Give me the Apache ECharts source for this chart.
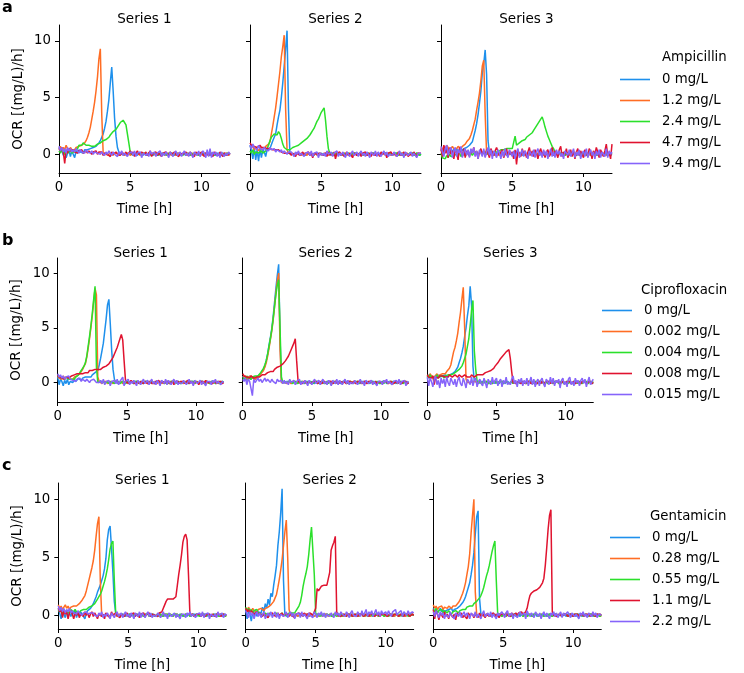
<!DOCTYPE html>
<html><head><meta charset="utf-8">
<script src="https://cdn.jsdelivr.net/npm/echarts@6/dist/echarts.min.js"></script>
<style>html,body{margin:0;padding:0;background:#fff}#c{width:744px;height:673px}</style>
</head><body><div id="c"></div>
<script>
// ---------- categories / labels ----------
const DRUGS = ['Ampicillin','Ciprofloxacin','Gentamicin'];
const AMP_CONC = ['0 mg/L','1.2 mg/L','2.4 mg/L','4.7 mg/L','9.4 mg/L'];
const CIP_CONC = ['0 mg/L','0.002 mg/L','0.004 mg/L','0.008 mg/L','0.015 mg/L'];
const GEN_CONC = ['0 mg/L','0.28 mg/L','0.55 mg/L','1.1 mg/L','2.2 mg/L'];
const PANEL_TITLES = ['Series 1','Series 2','Series 3'];
const LETTERS = ['a','b','c'];
const X_TICKS = [0,5,10];
const Y_TICKS = [0,5,10];
// sampling grid: 0 .. 12 h every 0.1 h (121 samples)
const TIME = Array.from({length:121},(_,i)=>i/10);

// ---------- Ampicillin, Series 1 ----------
const A1_0 = [.6,.2,.4,-.1,.3,-.3,.1,.4,-.2,.3,
.2,-.3,.3,.1,.4,.2,.3,.1,.4,.3,
.4,.3,.5,.4,.6,.5,.7,.8,1.0,1.2,
1.5,1.8,2.3,2.9,3.8,4.8,6.3,7.7,5.6,3.2,
1.6,.6,.2,.1,0,.1,-.1,.1,0,.1,
0,.1,-.1,.1,0,-.1,.1,0,.1,-.1,
.1,0,-.1,.1,0,.1,-.1,0,.1,0,
-.1,.1,0,.1,-.1,0,.1,-.1,0,.1,
0,-.1,.1,0,.1,-.1,0,.1,0,-.1,
0,.1,-.1,.1,0,-.1,.1,0,.1,-.1,
.1,0,-.1,.1,0,.1,-.1,0,.1,0,
-.1,.1,0,.1,-.1,0,.1,-.1,0,.1,
0];
const A1_1 = [.5,.7,.3,.6,.4,.8,.5,.3,.6,.4,
.5,.4,.6,.5,.7,.6,.8,.9,1.0,1.2,
1.5,1.9,2.4,3.1,3.8,4.6,5.6,6.8,8.4,9.3,
3.5,.1,0,.1,-.1,0,.1,0,-.1,.1,
0,.1,-.1,0,.1,0,-.1,.1,0,.1,
-.1,0,.1,-.1,0,.1,0,-.1,.1,0,
.1,-.1,0,.1,0,-.1,.1,0,-.1,.1,
0,.1,-.1,0,.1,-.1,0,.1,0,-.1,
.1,0,-.1,.1,0,.1,-.1,0,.1,0,
-.1,.1,0,-.1,.1,0,.1,-.1,0,.1,
0,-.1,.1,0,.1,-.1,0,.1,-.1,0,
.1,0,-.1,.1,0,-.1,.1,0,.1,-.1,
0];
const A1_2 = [.3,.1,.4,.2,0,.3,.1,.2,.4,.1,
.2,.3,.2,.5,.8,.9,.8,1.0,.9,.8,
.9,.8,.9,.7,.8,.7,.8,.9,.8,1.0,
1.1,1.2,1.1,1.3,1.4,1.5,1.7,1.8,2.0,2.1,
2.2,2.4,2.6,2.8,2.9,3.0,3.0,2.6,1.8,1.0,
.2,0,.1,-.1,0,.1,0,.1,-.1,0,
.1,-.1,0,.1,0,-.1,.1,0,.1,-.1,
0,.1,-.1,0,.1,0,-.1,.1,0,.1,
-.1,0,.1,-.1,0,.1,0,-.1,.1,0,
.1,0,-.1,.1,-.1,0,.1,0,-.1,.1,
0,.1,-.1,0,.1,-.1,0,.1,0,-.1,
.1,-.1,0,.1,0,.1,-.1,0,.1,0,
0];
const A1_3 = [.5,.3,.6,.2,-.8,.4,.1,.5,.3,.2,
.4,.2,.3,.1,.3,.2,.4,.1,.2,.3,
.1,.3,.2,0,.2,.1,.3,0,.2,.1,
.2,-.1,.1,.2,0,.1,-.2,.2,0,.1,
.2,0,.1,-.1,.2,.1,0,.2,-.1,.1,
.3,0,.2,-.2,.1,.3,0,-.1,.2,.1,
0,.2,-.1,.1,.3,-.2,.1,0,.2,-.1,
.1,.2,-.2,.1,0,.2,.1,-.1,.2,0,
-.1,.2,0,.1,-.2,.1,.2,0,-.1,.2,
.1,-.1,.2,0,.1,-.2,.2,.1,0,-.1,
.2,0,-.2,.1,.2,-.1,.1,0,-.2,.2,
0,.1,-.1,.2,0,-.2,.1,.2,-.1,0,
.1];
const A1_4 = [.7,.3,.6,.2,.5,.1,.6,.3,.5,.2,
.4,.2,.5,.3,.1,.4,.2,.3,.1,.4,
.2,.3,.1,.3,0,.2,.3,.1,.2,0,
.2,.1,-.1,.2,0,.3,.1,-.1,.2,0,
.1,-.2,.2,0,.3,-.1,.1,.2,-.2,.1,
0,.2,-.1,.3,-.2,.1,0,.2,-.3,.1,
.2,-.1,.1,-.2,.3,0,-.1,.2,-.2,.1,
0,.3,-.2,.1,-.1,.2,0,-.3,.2,.1,
-.2,.1,.3,-.1,0,.2,-.2,.1,.3,-.1,
.1,-.2,.2,0,-.3,.2,.1,-.1,.3,-.2,
-.2,.3,.1,-.3,.4,-.2,.5,-.3,.2,0,
.2,-.2,.1,-.3,.2,0,-.2,.1,-.1,.2,
0];

// ---------- Ampicillin, Series 2 ----------
const A2_0 = [.8,.3,-.4,.6,-.5,.4,-.6,.5,-.3,.4,
.2,-.2,.4,.3,.5,.6,1.2,1.5,1.8,2.6,
3.3,3.9,5.0,6.3,7.8,9.3,10.9,4.0,0,.1,
0,-.1,.1,0,.1,-.1,0,.1,0,-.1,
0,.1,-.1,.1,0,-.1,.1,0,.1,-.1,
.1,0,-.1,.1,0,.1,-.1,0,.1,0,
-.1,.1,0,.1,-.1,0,.1,-.1,0,.1,
0,-.1,.1,0,.1,-.1,0,.1,0,-.1,
0,.1,-.1,.1,0,-.1,.1,0,.1,-.1,
.1,0,-.1,.1,0,.1,-.1,0,.1,0,
-.1,.1,0,.1,-.1,0,.1,-.1,0,.1,
0,-.1,.1,0,.1,-.1,0,.1,0,-.1,
0];
const A2_1 = [.6,.5,.7,.4,.6,.5,.3,.6,.4,.5,
.5,.7,.6,.9,1.1,1.8,2.5,3.3,4.1,5.1,
6.2,7.3,8.6,9.5,10.5,4.0,.4,.1,0,.1,
.1,0,-.1,.1,0,.1,-.1,0,.1,0,
-.1,.1,0,.1,-.1,0,.1,-.1,0,.1,
0,-.1,.1,0,.1,-.1,0,.1,0,-.1,
0,.1,-.1,.1,0,-.1,.1,0,.1,-.1,
.1,0,-.1,.1,0,.1,-.1,0,.1,0,
-.1,.1,0,.1,-.1,0,.1,-.1,0,.1,
0,-.1,.1,0,.1,-.1,0,.1,0,-.1,
0,.1,-.1,.1,0,-.1,.1,0,.1,-.1,
.1,0,-.1,.1,0,.1,-.1,0,.1,0,
0];
const A2_2 = [.3,.1,.4,0,.2,.3,.1,.2,.3,.1,
.2,.3,.5,.8,1.2,1.5,1.6,1.8,1.9,1.7,
2.0,1.8,1.4,.9,.6,.5,.4,.3,.4,.5,
.6,.6,.7,.8,.8,.9,1.0,1.1,1.2,1.3,
1.4,1.5,1.7,1.9,2.1,2.3,2.6,2.9,3.1,3.4,
3.7,3.9,4.1,3.0,1.6,.5,.1,0,.1,-.1,
-.1,.1,0,.1,-.1,0,.1,-.1,0,.1,
0,-.1,.1,0,.1,-.1,0,.1,0,-.1,
0,.1,-.1,.1,0,-.1,.1,0,.1,-.1,
.1,0,-.1,.1,0,.1,-.1,0,.1,0,
-.1,.1,0,.1,-.1,0,.1,-.1,0,.1,
0,-.1,.1,0,.1,-.1,0,.1,0,-.1,
0];
const A2_3 = [1.0,.8,.9,.7,.8,.6,.7,.8,.6,.7,
.6,.7,.5,.6,.5,.6,.4,.5,.4,.3,
.4,.3,.2,.3,.1,.2,.1,0,.1,-.1,
.1,0,-.2,.1,.2,-.1,0,.2,-.1,.1,
0,.2,-.1,.1,-.3,.1,.2,0,-.1,.1,
.2,-.1,0,.1,-.2,.2,0,.1,-.1,.2,
-.4,.1,0,.2,-.1,.1,-.2,0,.2,-.1,
.1,0,-.3,.1,.2,-.1,0,.1,-.2,.1,
0,.2,-.1,0,.1,-.2,.1,.2,-.1,0,
.1,-.2,.2,0,-.1,.1,-.3,.1,0,.2,
-.1,.1,0,-.2,.2,.1,-.1,0,.2,-.1,
.1,-.2,0,.1,-.1,.2,0,-.2,.1,0,
.1];
const A2_4 = [.8,.5,.9,.6,.7,.4,.8,.5,.6,.4,
.6,.4,.5,.3,.6,.4,.3,.5,.2,.4,
.3,.2,.4,.1,.3,.2,0,.2,.1,.2,
.1,-.2,.2,0,.3,-.1,.1,.2,-.2,.1,
0,.2,-.1,.3,-.2,.1,0,.2,-.3,.1,
.2,-.1,.1,-.2,.3,0,-.1,.2,-.2,.1,
0,.3,-.2,.1,-.1,.2,0,-.3,.2,.1,
-.2,.1,.3,-.1,0,.2,-.2,.1,.3,-.1,
.1,-.2,.2,0,-.3,.2,.1,-.1,.3,-.2,
.2,0,-.2,.1,.3,-.1,.2,-.2,0,.1,
-.1,.2,.1,-.2,0,.3,-.1,.1,-.3,.2,
.3,-.1,0,.2,-.2,.1,.2,-.3,.1,0,
.1];

// ---------- Ampicillin, Series 3 ----------
const A3_0 = [.4,.1,.5,.2,.6,.3,.1,.4,.2,.5,
.3,.5,.2,.4,.6,.3,.5,.4,.6,.7,
.8,.9,1.1,1.6,2.1,2.7,3.5,4.5,5.6,7.2,
8.0,9.2,7.0,1.2,.1,0,.1,-.1,0,.1,
.1,0,-.1,.1,0,.1,-.1,0,.1,0,
-.1,.1,0,.1,-.1,0,.1,-.1,0,.1,
0,-.1,.1,0,.1,-.1,0,.1,0,-.1,
0,.1,-.1,.1,0,-.1,.1,0,.1,-.1,
.1,0,-.1,.1,0,.1,-.1,0,.1,0,
-.1,.1,0,.1,-.1,0,.1,-.1,0,.1,
0,-.1,.1,0,.1,-.1,0,.1,0,-.1,
0,.1,-.1,.1,0,-.1,.1,0,.1,-.1,
0];
const A3_1 = [.6,.4,.7,.5,.8,.6,.3,.5,.7,.5,
.6,.5,.7,.6,.5,.7,.8,.9,1.1,1.2,
1.4,1.7,2.1,2.6,3.1,3.9,4.6,5.4,6.5,7.8,
8.3,3.5,.1,0,-.1,.1,0,.1,-.1,0,
-.1,.1,0,.1,-.1,0,.1,-.1,0,.1,
0,-.1,.1,0,.1,-.1,0,.1,0,-.1,
0,.1,-.1,.1,0,-.1,.1,0,.1,-.1,
.1,0,-.1,.1,0,.1,-.1,0,.1,0,
-.1,.1,0,.1,-.1,0,.1,-.1,0,.1,
0,-.1,.1,0,.1,-.1,0,.1,0,-.1,
0,.1,-.1,.1,0,-.1,.1,0,.1,-.1,
.1,0,-.1,.1,0,.1,-.1,0,.1,0,
0];
const A3_2 = [.1,-.3,-.2,-.4,-.1,-.3,0,-.2,-.3,-.1,
-.2,0,-.1,.1,-.2,0,.1,-.1,0,.1,
0,.1,-.1,.1,0,.2,0,.1,.2,0,
.1,.2,0,.1,.2,.1,.2,.3,.2,.3,
.2,.3,.4,.3,.4,.3,.5,.4,.5,.6,
.5,.6,1.6,.8,.9,1.0,1.1,1.2,1.1,1.3,
1.5,1.6,1.7,1.8,1.9,2.1,2.3,2.5,2.7,2.9,
3.1,3.3,2.9,2.4,2.0,1.6,1.3,1.0,.7,.5,
.2,.1,0,-.1,.1,0,.1,-.1,0,.1,
0,.1,-.1,.1,0,-.1,.1,0,.1,-.1,
.1,0,-.1,.1,0,.1,-.1,0,.1,0,
-.1,.1,0,.1,-.1,0,.1,-.1,0,.1,
0];
const A3_3 = [.5,-.2,.8,.1,.4,-.3,.6,0,.3,-.4,
.4,.1,-.5,.6,.2,-.1,.5,-.3,.3,.1,
-.2,.4,.1,.6,-.1,.3,-.4,.2,.5,0,
.3,-.2,.4,.1,-.3,.5,.2,-.1,.3,.6,
.7,-.1,.2,.4,-.3,.1,.5,-.2,.3,0,
.2,-.4,.4,-.9,.3,.1,-.2,.5,0,.3,
-.3,.2,.6,-.1,.3,-.2,.4,.1,-.4,.2,
.5,-.1,.3,-.3,.2,.4,-.2,.1,.6,-.1,
.3,.1,-.3,.4,.7,-.2,.2,0,.5,-.3,
.1,.4,-.2,.3,-.4,.2,.5,-.1,.3,0,
-.3,.4,.1,-.2,.5,.2,-.4,.3,0,.6,
.2,-.3,.4,.1,-.2,.3,.9,-.1,.2,-.4,
.9];
const A3_4 = [.7,.2,-.2,.5,.8,-.1,.4,.6,-.3,.3,
.6,-.2,.4,.1,.7,-.3,.2,.5,-.1,.4,
-.3,.5,.1,.6,-.2,.3,-.4,.4,.1,-.2,
.5,-.3,.2,.6,-.1,.4,-.4,.3,.1,-.3,
.4,.1,-.4,.3,-.2,.5,0,-.3,.4,.1,
-.2,.3,-.4,.2,.5,-.3,.1,.4,-.2,.3,
0,-.4,.3,.1,-.2,.4,-.3,.2,.5,-.1,
.2,-.3,.4,-.1,.3,-.4,.1,.5,-.2,.2,
-.3,.4,0,.3,-.2,.1,-.4,.3,.2,-.1,
.4,-.2,.1,.5,-.3,.2,-.1,.4,-.4,.1,
.3,-.2,.5,-.3,.1,.4,-.1,.2,-.4,.3,
-.1,.4,-.3,.2,.1,-.2,.5,-.3,.3,0,
.2];

// ---------- Ciprofloxacin, Series 1 ----------
const B1_0 = [.5,-.2,.3,.1,-.3,.2,-.1,.3,-.2,.1,
.2,0,.3,.1,.2,.4,.3,.2,.4,.3,
.5,.4,.5,.6,.5,.7,.8,.9,1.0,1.1,
1.6,2.2,2.9,3.6,4.7,5.8,7.1,7.6,5.4,3.0,
1.2,.3,0,.1,-.1,0,.1,-.1,0,.1,
0,.1,-.1,.1,0,-.1,.1,0,.1,-.1,
.1,0,-.1,.1,0,.1,-.1,0,.1,0,
-.1,.1,0,.1,-.1,0,.1,-.1,0,.1,
0,-.1,.1,0,.1,-.1,0,.1,0,-.1,
0,.1,-.1,.1,0,-.1,.1,0,.1,-.1,
.1,0,-.1,.1,0,.1,-.1,0,.1,0,
-.1,.1,0,.1,-.1,0,.1,-.1,0,.1,
0];
const B1_1 = [.6,.4,.5,.3,.6,.4,.3,.5,.4,.3,
.4,.3,.5,.4,.6,.7,.8,1.0,1.2,1.5,
1.7,2.3,3.1,4.0,5.0,6.1,7.4,8.6,8.0,.5,
.1,0,-.1,.1,0,.1,-.1,0,.1,0,
-.1,.1,0,.1,-.1,0,.1,-.1,0,.1,
0,-.1,.1,0,.1,-.1,0,.1,0,-.1,
0,.1,-.1,.1,0,-.1,.1,0,.1,-.1,
.1,0,-.1,.1,0,.1,-.1,0,.1,0,
-.1,.1,0,.1,-.1,0,.1,-.1,0,.1,
0,-.1,.1,0,.1,-.1,0,.1,0,-.1,
0,.1,-.1,.1,0,-.1,.1,0,.1,-.1,
.1,0,-.1,.1,0,.1,-.1,0,.1,0,
0];
const B1_2 = [.7,.5,.6,.4,.5,.3,.5,.4,.3,.4,
.3,.4,.3,.5,.6,.7,.9,1.1,1.3,1.5,
1.8,2.4,3.3,4.2,5.2,6.3,7.6,8.8,1.4,0,
-.1,.1,0,.1,-.1,0,.1,-.1,0,.1,
0,-.1,.1,0,.1,-.1,0,.1,0,-.1,
0,.1,-.1,.1,0,-.1,.1,0,.1,-.1,
.1,0,-.1,.1,0,.1,-.1,0,.1,0,
-.1,.1,0,.1,-.1,0,.1,-.1,0,.1,
0,-.1,.1,0,.1,-.1,0,.1,0,-.1,
0,.1,-.1,.1,0,-.1,.1,0,.1,-.1,
.1,0,-.1,.1,0,.1,-.1,0,.1,0,
-.1,.1,0,.1,-.1,0,.1,-.1,0,.1,
0];
const B1_3 = [.7,.5,.6,.4,.5,.3,.5,.6,.4,.5,
.6,.5,.7,.6,.8,.7,.8,.9,.8,.9,
.9,1.0,.9,1.1,1.0,1.1,1.0,1.2,1.1,1.2,
1.3,1.2,1.3,1.4,1.4,1.5,1.6,1.7,1.9,2.1,
2.3,2.6,2.9,3.2,3.6,4.0,4.4,3.9,2.0,.2,
0,.1,-.1,.2,0,.1,-.1,0,.1,-.1,
.1,0,-.1,.1,.2,-.1,0,.1,-.1,0,
-.1,.1,0,.2,-.1,0,.1,-.1,.1,0,
.1,-.1,0,.1,-.2,.1,0,.1,-.1,.1,
0,.1,-.1,0,.2,-.1,.1,0,-.1,.1,
.1,0,-.2,.1,0,.1,-.1,.2,0,-.1,
0,.1,-.1,.1,0,-.1,.1,0,.1,-.1,
0];
const B1_4 = [.8,.5,.7,.4,.6,.3,.5,.4,.6,.3,
.4,.2,.3,.1,.3,.2,.4,.1,.3,.2,
.1,.3,.2,0,.2,.1,.3,.2,0,.1,
0,.2,-.1,.3,-.2,.1,0,.2,-.3,.1,
0,.2,-.1,.3,-.2,.1,0,.5,-.3,.1,
0,.3,-.2,.1,-.1,.2,0,-.3,.2,.1,
-.2,.1,.3,-.1,0,.2,-.2,.1,.3,-.1,
.1,-.2,.2,0,-.3,.2,.1,-.1,.3,-.2,
.2,0,-.2,.1,.3,-.1,.2,-.2,0,.1,
-.1,.2,.1,-.2,0,.3,-.1,.1,-.3,.2,
.3,-.1,0,.2,-.2,.1,.2,-.3,.1,0,
.1,-.2,.2,0,.3,-.1,.1,.2,-.2,.1,
0];

// ---------- Ciprofloxacin, Series 2 ----------
const B2_0 = [.6,.3,.5,.2,.4,.6,.3,.5,.4,.3,
.5,.6,.7,.8,1.0,1.2,1.5,2.0,2.6,3.4,
4.1,4.9,6.0,7.3,8.6,9.8,10.8,4.0,0,.1,
0,-.1,.1,0,.1,-.1,0,.1,0,-.1,
0,.1,-.1,.1,0,-.1,.1,0,.1,-.1,
.1,0,-.1,.1,0,.1,-.1,0,.1,0,
-.1,.1,0,.1,-.1,0,.1,-.1,0,.1,
0,-.1,.1,0,.1,-.1,0,.1,0,-.1,
0,.1,-.1,.1,0,-.1,.1,0,.1,-.1,
.1,0,-.1,.1,0,.1,-.1,0,.1,0,
-.1,.1,0,.1,-.1,0,.1,-.1,0,.1,
0,-.1,.1,0,.1,-.1,0,.1,0,-.1,
0];
const B2_1 = [.5,.4,.6,.3,.5,.4,.6,.4,.5,.3,
.4,.5,.6,.8,.9,1.1,1.4,1.8,2.4,3.1,
3.9,4.7,5.7,6.9,8.2,9.3,10.0,3.0,0,.1,
0,.1,-.1,.1,0,-.1,.1,0,.1,-.1,
.1,0,-.1,.1,0,.1,-.1,0,.1,0,
-.1,.1,0,.1,-.1,0,.1,-.1,0,.1,
0,-.1,.1,0,.1,-.1,0,.1,0,-.1,
0,.1,-.1,.1,0,-.1,.1,0,.1,-.1,
.1,0,-.1,.1,0,.1,-.1,0,.1,0,
-.1,.1,0,.1,-.1,0,.1,-.1,0,.1,
0,-.1,.1,0,.1,-.1,0,.1,0,-.1,
0,.1,-.1,.1,0,-.1,.1,0,.1,-.1,
0];
const B2_2 = [.4,.5,.3,.6,.4,.5,.3,.5,.4,.6,
.5,.6,.7,.9,1.0,1.3,1.6,2.0,2.6,3.3,
4.0,4.8,5.8,6.9,8.0,8.9,9.4,9.3,.5,0,
.1,0,-.1,.1,0,.1,-.1,0,.1,0,
-.1,.1,0,.1,-.1,0,.1,-.1,0,.1,
0,-.1,.1,0,.1,-.1,0,.1,0,-.1,
0,.1,-.1,.1,0,-.1,.1,0,.1,-.1,
.1,0,-.1,.1,0,.1,-.1,0,.1,0,
-.1,.1,0,.1,-.1,0,.1,-.1,0,.1,
0,-.1,.1,0,.1,-.1,0,.1,0,-.1,
0,.1,-.1,.1,0,-.1,.1,0,.1,-.1,
.1,0,-.1,.1,0,.1,-.1,0,.1,0,
0];
const B2_3 = [.8,.6,.7,.5,.6,.4,.6,.5,.4,.5,
.5,.6,.5,.6,.7,.6,.7,.8,.9,.9,
1.0,1.1,1.0,1.2,1.3,1.4,1.4,1.5,1.6,1.7,
1.8,2.0,2.2,2.4,2.7,3.0,3.3,3.6,4.0,2.0,
.2,0,.1,-.1,0,.1,0,-.1,.1,0,
-.1,.1,0,.1,-.1,0,.1,-.1,0,.1,
0,-.1,.1,0,.1,-.1,0,.1,0,-.1,
0,.1,-.1,.1,0,-.1,.1,0,.1,-.1,
.1,0,-.1,.1,0,.1,-.1,0,.1,0,
-.1,.1,0,.1,-.1,0,.1,-.1,0,.1,
0,-.1,.1,0,.1,-.1,0,.1,0,-.1,
0,.1,-.1,.1,0,-.1,.1,0,.1,-.1,
0];
const B2_4 = [.3,.1,.4,-.2,.3,.1,.2,-1.2,.3,0,
.2,.4,.1,.3,0,.2,.4,.1,.3,.2,
0,.3,.1,.2,-.1,.3,.1,0,.2,-.1,
.2,-.1,.1,-.2,.3,0,-.1,.2,-.2,.1,
0,.3,-.2,.1,-.1,.2,0,-.3,.2,.1,
-.2,.1,.3,-.1,0,.2,-.2,.1,.3,-.1,
.1,-.2,.2,0,-.3,.2,.1,-.1,.3,-.2,
.2,0,-.2,.1,.3,-.1,.2,-.2,0,.1,
-.1,.2,.1,-.2,0,.3,-.1,.1,-.3,.2,
.3,-.1,0,.2,-.2,.1,.2,-.3,.1,0,
.1,-.2,.2,0,.3,-.1,.1,.2,-.2,.1,
0,.2,-.1,.3,-.2,.1,0,.2,-.3,.1,
0];

// ---------- Ciprofloxacin, Series 3 ----------
const B3_0 = [.5,.7,.4,.6,.5,.3,.6,.4,.7,.5,
.4,.6,.5,.7,.6,.5,.7,.6,.8,.9,
1.0,1.2,1.4,1.8,2.2,2.7,3.3,4.2,5.0,6.1,
7.0,8.8,7.0,1.5,.1,0,.1,-.1,0,.1,
0,.1,-.1,.1,0,-.1,.1,0,.1,-.1,
.1,0,-.1,.1,0,.1,-.1,0,.1,0,
-.1,.1,0,.1,-.1,0,.1,-.1,0,.1,
0,-.1,.1,0,.1,-.1,0,.1,0,-.1,
0,.1,-.1,.1,0,-.1,.1,0,.1,-.1,
.1,0,-.1,.1,0,.1,-.1,0,.1,0,
-.1,.1,0,.1,-.1,0,.1,-.1,0,.1,
0,-.1,.1,0,.1,-.1,0,.1,0,-.1,
0];
const B3_1 = [.7,.5,.8,.6,.7,.5,.6,.8,.5,.7,
.6,.8,.9,.8,1.0,1.1,1.3,1.6,2.2,2.8,
3.2,3.8,4.5,5.5,6.4,7.6,8.7,5.0,.3,0,
.1,0,-.1,.1,0,.1,-.1,0,.1,0,
-.1,.1,0,.1,-.1,0,.1,-.1,0,.1,
0,-.1,.1,0,.1,-.1,0,.1,0,-.1,
0,.1,-.1,.1,0,-.1,.1,0,.1,-.1,
.1,0,-.1,.1,0,.1,-.1,0,.1,0,
-.1,.1,0,.1,-.1,0,.1,-.1,0,.1,
0,-.1,.1,0,.1,-.1,0,.1,0,-.1,
0,.1,-.1,.1,0,-.1,.1,0,.1,-.1,
.1,0,-.1,.1,0,.1,-.1,0,.1,0,
0];
const B3_2 = [.6,.4,.7,.5,.6,.4,.5,.7,.4,.6,
.5,.6,.4,.6,.5,.7,.6,.7,.8,.8,
.9,1.0,1.1,1.2,1.3,1.5,1.8,2.2,2.6,3.3,
4.0,5.2,6.6,7.5,2.9,1.2,.1,0,.1,-.1,
-.1,.1,0,.1,-.1,0,.1,-.1,0,.1,
0,-.1,.1,0,.1,-.1,0,.1,0,-.1,
0,.1,-.1,.1,0,-.1,.1,0,.1,-.1,
.1,0,-.1,.1,0,.1,-.1,0,.1,0,
-.1,.1,0,.1,-.1,0,.1,-.1,0,.1,
0,-.1,.1,0,.1,-.1,0,.1,0,-.1,
0,.1,-.1,.1,0,-.1,.1,0,.1,-.1,
.1,0,-.1,.1,0,.1,-.1,0,.1,0,
0];
const B3_3 = [.7,.5,.6,.4,.6,-.2,.5,.6,.4,.6,
.5,.6,.7,.5,.6,.5,.7,.6,.5,.6,
.7,.6,.5,.7,.6,.5,.6,.7,.6,.5,
.6,.5,.7,.6,.5,.6,.7,.6,.7,.8,
.7,.8,.9,.8,1.0,1.1,1.1,1.2,1.3,1.5,
1.6,1.8,2.0,2.2,2.3,2.5,2.6,2.8,2.9,3.0,
2.2,1.0,0,.1,-.1,0,.1,0,-.1,.1,
0,-.1,.1,0,.1,-.1,0,.1,0,-.1,
0,.1,-.1,.1,0,-.1,.1,0,.1,-.1,
.1,0,-.1,.1,0,.1,-.1,0,.1,0,
-.1,.1,0,.1,-.1,0,.1,-.1,0,.1,
0,-.1,.1,0,.1,-.1,0,.1,0,-.1,
0];
const B3_4 = [.5,-.3,.4,.1,-.4,.3,.6,-.2,.2,-.5,
.4,-.1,.3,-.4,.5,0,-.3,.4,.1,-.2,
.3,-.4,.2,.5,-.1,-.3,.4,0,-.5,.3,
.1,-.2,.5,-.3,.2,.4,-.4,.1,.3,-.1,
-.3,.4,0,-.5,.3,.2,-.2,.5,-.1,.2,
.4,-.3,.1,.3,-.4,.2,-.1,.5,-.2,0,
-.2,.3,.6,-.1,.2,-.4,.3,0,.4,-.3,
.2,-.1,.4,-.3,.1,.5,-.2,.3,-.4,.1,
.3,-.3,.2,.4,-.1,-.4,.3,.1,-.2,.5,
-.1,.4,-.3,.2,0,.3,-.5,.2,.4,-.2,
.1,-.4,.3,.5,-.2,.1,-.3,.4,0,.2,
-.3,.2,.4,-.1,.3,-.4,.1,.5,-.2,.1,
.3];

// ---------- Gentamicin, Series 1 ----------
const C1_0 = [.6,.2,-.3,.4,.1,-.2,.3,0,.2,-.1,
.3,.1,.4,-.2,.2,0,.3,.1,.2,-.3,
.2,.4,.5,.6,.8,1.0,1.3,1.6,2.0,2.3,
2.6,3.0,3.4,4.0,4.9,6.5,7.4,7.7,5.8,3.7,
1.2,.2,0,.1,-.1,0,.1,0,-.1,.1,
0,.1,-.1,.1,0,-.1,.1,0,.1,-.1,
.1,0,-.1,.1,0,.1,-.1,0,.1,0,
-.1,.1,0,.1,-.1,0,.1,-.1,0,.1,
0,-.1,.1,0,.1,-.1,0,.1,0,-.1,
0,.1,-.1,.1,0,-.1,.1,0,.1,-.1,
.1,0,-.1,.1,0,.1,-.1,0,.1,0,
-.1,.1,0,.1,-.1,0,.1,-.1,0,.1,
0];
const C1_1 = [.9,.6,.8,.5,.7,.9,.6,.8,.5,.7,
.6,.8,.7,.8,.9,1.0,1.1,1.3,1.4,1.7,
2.1,2.6,3.1,3.6,4.1,4.7,5.6,6.8,7.9,8.5,
3.0,0,.1,-.1,0,.1,-.1,0,.1,0,
.1,0,-.1,.1,0,.1,-.1,0,.1,0,
-.1,.1,0,.1,-.1,0,.1,-.1,0,.1,
0,-.1,.1,0,.1,-.1,0,.1,0,-.1,
0,.1,-.1,.1,0,-.1,.1,0,.1,-.1,
.1,0,-.1,.1,0,.1,-.1,0,.1,0,
-.1,.1,0,.1,-.1,0,.1,-.1,0,.1,
0,-.1,.1,0,.1,-.1,0,.1,0,-.1,
0,.1,-.1,.1,0,-.1,.1,0,.1,-.1,
0];
const C1_2 = [.5,.3,.6,.2,.4,.5,.3,.4,.2,.5,
.4,.3,.5,.3,.4,.2,.4,.3,.5,.4,
.5,.6,.7,.6,.8,.9,1.0,1.2,1.4,1.6,
1.8,2.1,2.5,2.9,3.4,4.0,4.8,5.7,6.2,6.4,
3.0,.2,0,.1,-.1,0,.1,-.1,0,.1,
-.1,.1,0,.1,-.1,0,.1,-.1,0,.1,
0,-.1,.1,0,.1,-.1,0,.1,0,-.1,
0,.1,-.1,.1,0,-.1,.1,0,.1,-.1,
.1,0,-.1,.1,0,.1,-.1,0,.1,0,
-.1,.1,0,.1,-.1,0,.1,-.1,0,.1,
0,-.1,.1,0,.1,-.1,0,.1,0,-.1,
0,.1,-.1,.1,0,-.1,.1,0,.1,-.1,
0];
const C1_3 = [.6,.3,.5,-.2,.4,.1,.3,-.3,.2,.4,
.1,-.3,.2,0,.3,-.2,.1,.2,-.1,.3,
0,.2,-.2,.1,.3,-.1,.2,0,-.3,.1,
.2,-.1,.1,-.3,.2,0,.1,-.2,.3,0,
-.1,.2,0,.1,-.2,.1,.2,-.1,0,.2,
.1,-.2,.1,0,.2,-.1,.1,0,-.2,.1,
0,.2,-.1,.1,0,.2,-.1,.1,.2,0,
.1,-.1,.2,.1,.3,.6,.9,1.2,1.4,1.3,
1.4,1.5,1.4,1.5,1.6,1.7,3.5,4.3,5.2,6.3,
6.8,7.0,6.5,3.5,.1,0,.1,-.1,0,.1,
0,.1,-.1,.1,0,-.1,.1,0,.1,-.1,
.1,0,-.1,.1,0,.1,-.1,0,.1,0,
0];
const C1_4 = [.8,.4,.7,.3,.6,.2,.5,.3,.6,.2,
.4,.2,.3,.1,.4,.2,.3,0,.2,.1,
.3,.1,0,.2,.1,.2,0,.1,-.1,.2,
0,.3,-.2,.1,-.1,.2,0,-.3,.2,.1,
-.2,.1,.3,-.1,0,.2,-.2,.1,.3,-.1,
.1,-.2,.2,0,-.3,.2,.1,-.1,.3,-.2,
.2,0,-.2,.1,.3,-.1,.2,-.2,0,.1,
-.1,.2,.1,-.2,0,.3,-.1,.1,-.3,.2,
.3,-.1,0,.2,-.2,.1,.2,-.3,.1,0,
.1,-.2,.2,0,.3,-.1,.1,.2,-.2,.1,
0,.2,-.1,.3,-.2,.1,0,.2,-.3,.1,
.2,-.1,.1,-.2,.3,0,-.1,.2,-.2,.1,
0];

// ---------- Gentamicin, Series 2 ----------
const C2_0 = [.5,-.3,.4,.1,-.5,.3,-.2,.5,-.1,.3,
.4,.2,.7,.3,1.0,.6,1.4,.9,1.9,1.6,
2.6,3.4,4.3,6.0,7.2,8.8,10.9,3.0,0,.1,
-.1,.1,0,.1,-.1,0,.1,-.1,0,.1,
0,-.1,.1,0,.1,-.1,0,.1,0,-.1,
0,.1,-.1,.1,0,-.1,.1,0,.1,-.1,
.1,0,-.1,.1,0,.1,-.1,0,.1,0,
-.1,.1,0,.1,-.1,0,.1,-.1,0,.1,
0,-.1,.1,0,.1,-.1,0,.1,0,-.1,
0,.1,-.1,.1,0,-.1,.1,0,.1,-.1,
.1,0,-.1,.1,0,.1,-.1,0,.1,0,
-.1,.1,0,.1,-.1,0,.1,-.1,0,.1,
0];
const C2_1 = [.6,.4,.7,.5,.3,.6,.4,.5,.3,.5,
.4,.6,.5,.4,.6,.5,.7,.8,.9,1.0,
1.2,1.5,1.8,2.4,3.1,3.9,4.8,6.0,7.2,8.2,
5.0,.5,0,.1,-.1,0,.1,-.1,0,.1,
0,-.1,.1,0,.1,-.1,0,.1,0,-.1,
0,.1,-.1,.1,0,-.1,.1,0,.1,-.1,
.1,0,-.1,.1,0,.1,-.1,0,.1,0,
-.1,.1,0,.1,-.1,0,.1,-.1,0,.1,
0,-.1,.1,0,.1,-.1,0,.1,0,-.1,
0,.1,-.1,.1,0,-.1,.1,0,.1,-.1,
.1,0,-.1,.1,0,.1,-.1,0,.1,0,
-.1,.1,0,.1,-.1,0,.1,-.1,0,.1,
0];
const C2_2 = [.7,.4,.6,.3,.5,.2,.4,.3,.5,.2,
.3,.1,.2,0,.2,.1,0,.2,.1,0,
.1,0,.2,.1,0,.1,.2,0,.1,0,
.1,.2,.1,.2,.1,.2,.4,.6,.8,1.1,
1.7,2.5,3.1,3.6,4.2,5.2,6.5,7.6,7.7,3.5,
.1,0,.1,-.1,0,.1,0,-.1,.1,0,
0,.1,-.1,.1,0,-.1,.1,0,.1,-.1,
.1,0,-.1,.1,0,.1,-.1,0,.1,0,
-.1,.1,0,.1,-.1,0,.1,-.1,0,.1,
0,-.1,.1,0,.1,-.1,0,.1,0,-.1,
0,.1,-.1,.1,0,-.1,.1,0,.1,-.1,
.1,0,-.1,.1,0,.1,-.1,0,.1,0,
0];
const C2_3 = [.6,.3,.5,.2,.4,.3,.1,.2,.3,0,
.2,.1,-.1,.2,0,.1,-.2,.1,0,.2,
0,.1,-.1,.2,0,.1,.2,-.1,.1,0,
.1,-.1,.2,0,.1,-.2,.1,0,.2,.1,
0,.1,.2,-.1,.1,0,.2,.1,0,.1,
.6,2.3,2.1,2.3,2.5,2.4,2.6,2.5,2.6,2.7,
3.7,5.6,6.0,6.3,6.8,.3,0,.1,-.1,0,
.1,0,-.1,.1,0,.1,-.1,0,.1,0,
-.1,.1,0,.1,-.1,0,.1,0,-.1,.1,
0,.1,-.1,0,.1,0,-.1,.1,0,.1,
.1,-.1,0,.1,0,-.1,.1,0,.1,-.1,
0,.1,0,-.1,.1,0,.1,-.1,0,.1,
0];
const C2_4 = [.4,.1,-.2,.3,0,.2,-.3,.1,.3,-.1,
.2,-.2,.1,.3,-.3,0,.2,-.1,.3,-.2,
.1,.3,-.2,.2,-.3,.1,.2,-.1,0,.3,
-.2,.1,.3,-.1,.2,-.3,.1,0,.2,-.2,
.3,-.1,.1,.2,-.3,.2,0,.1,-.2,.3,
.1,-.2,.2,0,.3,-.1,.2,-.2,.1,.2,
-.1,.2,.1,-.2,.3,0,.2,-.1,.3,.1,
.2,-.1,.3,.1,-.2,.2,.4,0,.1,-.1,
.3,.1,-.1,.4,0,.2,.5,-.1,.3,.1,
.4,-.1,.2,.5,0,.3,-.1,.4,.1,.2,
.3,0,.4,.1,-.1,.3,.2,.5,0,.2,
.1,.4,-.1,.3,.2,0,.4,.1,.2,.3,
.2];

// ---------- Gentamicin, Series 3 ----------
const C3_0 = [.6,.3,.5,.2,.4,.6,.3,.5,.2,.4,
.3,.5,.4,.6,.3,.5,.4,.6,.7,.8,
.9,1.1,1.3,1.6,2.0,2.4,2.8,3.5,4.3,5.4,
7.0,8.5,9.0,1.5,.1,0,.1,-.1,0,.1,
0,-.1,.1,0,.1,-.1,0,.1,0,-.1,
0,.1,-.1,.1,0,-.1,.1,0,.1,-.1,
.1,0,-.1,.1,0,.1,-.1,0,.1,0,
-.1,.1,0,.1,-.1,0,.1,-.1,0,.1,
0,-.1,.1,0,.1,-.1,0,.1,0,-.1,
0,.1,-.1,.1,0,-.1,.1,0,.1,-.1,
.1,0,-.1,.1,0,.1,-.1,0,.1,0,
-.1,.1,0,.1,-.1,0,.1,-.1,0,.1,
0];
const C3_1 = [.9,.6,.8,.5,.7,.6,.8,.5,.7,.6,
.6,.8,.7,.6,.8,.9,.8,.9,1.1,1.3,
1.6,1.9,2.3,2.8,3.5,4.2,5.3,7.1,8.6,10.0,
2.0,0,.1,-.1,0,.1,-.1,0,.1,0,
0,.1,-.1,.1,0,-.1,.1,0,.1,-.1,
.1,0,-.1,.1,0,.1,-.1,0,.1,0,
-.1,.1,0,.1,-.1,0,.1,-.1,0,.1,
0,-.1,.1,0,.1,-.1,0,.1,0,-.1,
0,.1,-.1,.1,0,-.1,.1,0,.1,-.1,
.1,0,-.1,.1,0,.1,-.1,0,.1,0,
-.1,.1,0,.1,-.1,0,.1,-.1,0,.1,
0,-.1,.1,0,.1,-.1,0,.1,0,-.1,
0];
const C3_2 = [.5,.3,.6,.2,.4,.3,.5,.2,.4,.3,
.2,.4,.3,.1,.3,.2,.4,.3,.2,.4,
.4,.5,.6,.5,.7,.6,.8,.9,.8,1.0,
1.1,1.2,1.3,1.5,1.7,2.0,2.4,2.9,3.4,3.8,
4.3,4.9,5.5,6.0,6.4,3.0,.1,0,.1,-.1,
.1,0,-.1,.1,0,.1,-.1,0,.1,0,
-.1,.1,0,.1,-.1,0,.1,-.1,0,.1,
0,-.1,.1,0,.1,-.1,0,.1,0,-.1,
0,.1,-.1,.1,0,-.1,.1,0,.1,-.1,
.1,0,-.1,.1,0,.1,-.1,0,.1,0,
-.1,.1,0,.1,-.1,0,.1,-.1,0,.1,
0,-.1,.1,0,.1,-.1,0,.1,0,-.1,
0];
const C3_3 = [.5,-.3,.4,.1,-.4,.2,0,-.2,.3,-.1,
.1,-.3,.2,0,-.2,.1,-.4,.2,0,-.1,
.2,-.2,0,.1,-.3,.2,0,-.1,.1,-.2,
.1,0,-.2,.2,-.1,0,.1,-.2,.1,0,
-.1,.1,0,.2,-.1,.1,0,-.2,.1,0,
.1,-.1,.2,0,.1,-.1,.2,0,.1,.2,
0,.2,.1,.3,.1,.2,.3,.6,1.2,1.7,
1.9,2.0,2.1,2.2,2.2,2.3,2.4,2.6,2.8,3.2,
4.3,5.8,7.4,8.6,9.1,.3,0,.1,-.1,0,
.1,0,-.1,.1,0,.1,-.1,0,.1,0,
-.1,.1,0,.1,-.1,0,.1,0,-.1,.1,
0,.1,-.1,0,.1,0,-.1,.1,0,.1,
0];
const C3_4 = [.3,-.1,.4,.1,-.2,.3,0,.2,-.3,.1,
.2,-.2,.3,0,.1,-.3,.2,.1,-.1,.3,
-.2,.1,.3,-.1,.2,0,-.3,.2,.1,-.1,
.3,-.2,.1,.2,-.3,.1,.4,-.1,0,.2,
-.1,.3,-.2,.1,.2,-.3,.2,0,-.1,.3,
.1,-.2,.2,.4,-.1,0,.2,-.3,.1,.2,
-.2,.1,.3,0,-.1,.2,-.3,.4,.1,-.1,
.2,0,-.2,.3,.1,-.1,.2,-.3,.1,.3,
-.1,.2,.1,-.3,.2,0,.3,-.1,.2,-.2,
.1,.3,-.2,.2,0,-.1,.3,.1,-.2,.2,
.3,-.1,.1,.2,-.3,.2,0,.3,-.1,.1,
-.2,.2,.1,-.1,.3,0,.2,-.2,.1,.2,
0];

// ---------- assembly ----------
const FONT = 'DejaVu Sans';
const COLORS = ['#1E90EC','#FF6D24','#2BE02B','#E0132F','#8664FA'];
const ROWS = [
  {drug: DRUGS[0], conc: AMP_CONC, panels: [[A1_0,A1_1,A1_2,A1_3,A1_4],[A2_0,A2_1,A2_2,A2_3,A2_4],[A3_0,A3_1,A3_2,A3_3,A3_4]]},
  {drug: DRUGS[1], conc: CIP_CONC, panels: [[B1_0,B1_1,B1_2,B1_3,B1_4],[B2_0,B2_1,B2_2,B2_3,B2_4],[B3_0,B3_1,B3_2,B3_3,B3_4]]},
  {drug: DRUGS[2], conc: GEN_CONC, panels: [[C1_0,C1_1,C1_2,C1_3,C1_4],[C2_0,C2_1,C2_2,C2_3,C2_4],[C3_0,C3_1,C3_2,C3_3,C3_4]]}
];
const LAYOUT = [
  {top:25, height:148, lefts:[59,250,441], width:171, ymin:-1.65, ymax:11.4, titleTop:12, letterTop:0, drugLeft:662, drugTop:51, legLeft:620, legTop:73},
  {top:258, height:144, lefts:[57.7,242.7,427.3], width:166, ymin:-1.78, ymax:11.38, titleTop:246, letterTop:233, drugLeft:641, drugTop:284, legLeft:602, legTop:304},
  {top:483, height:146, lefts:[58.3,245.7,433.3], width:168, ymin:-1.18, ymax:11.4, titleTop:473, letterTop:458, drugLeft:650, drugTop:510, legLeft:610, legTop:531}
];
const txt = (size, weight) => ({fontFamily: FONT, fontSize: size, fontWeight: weight || 'normal', color: '#000'});

const option = {animation:false, backgroundColor:'#fff', title:[], grid:[], xAxis:[], yAxis:[], legend:[], series:[]};
ROWS.forEach((row, r) => {
  const L = LAYOUT[r];
  option.title.push({text: LETTERS[r], left: 2, top: L.letterTop, padding: 0, textStyle: txt(16, 'bold')});
  option.title.push({text: row.drug, left: L.drugLeft, top: L.drugTop, padding: 0, textStyle: txt(13.3)});
  option.legend.push({data: row.conc, orient: 'vertical', left: L.legLeft, top: L.legTop, padding: 0,
    icon: 'rect', itemWidth: 30, itemHeight: 1.6, itemGap: 8, selectedMode: false,
    textStyle: Object.assign(txt(13.3), {padding: [0,0,0,7]})});
  row.panels.forEach((vals, c) => {
    const k = option.grid.length;
    option.grid.push({left: L.lefts[c], top: L.top, width: L.width, height: L.height});
    option.title.push({text: PANEL_TITLES[c], left: L.lefts[c] + L.width / 2, top: L.titleTop, textAlign: 'center', padding: 0, textStyle: txt(13.5)});
    option.xAxis.push({gridIndex: k, type: 'value', min: 0, max: 12,
      axisLine: {show: true, onZero: false, lineStyle: {color: '#000', width: 1}},
      axisTick: {show: true, inside: false, length: 4, customValues: X_TICKS, lineStyle: {color: '#000', width: 1}},
      axisLabel: {customValues: X_TICKS, margin: 8, ...txt(13.3)},
      splitLine: {show: false},
      name: 'Time [h]', nameLocation: 'middle', nameGap: 30, nameTextStyle: txt(13.3)});
    option.yAxis.push({gridIndex: k, type: 'value', min: L.ymin, max: L.ymax,
      axisLine: {show: true, onZero: false, lineStyle: {color: '#000', width: 1}},
      axisTick: {show: true, inside: false, length: 4, customValues: Y_TICKS, lineStyle: {color: '#000', width: 1}},
      axisLabel: {show: c === 0, customValues: Y_TICKS, margin: 8, ...txt(13.3)},
      splitLine: {show: false},
      name: c === 0 ? 'OCR [(mg/L)/h]' : '', nameLocation: 'middle', nameGap: 34, nameRotate: 90, nameTextStyle: txt(13.5)});
    vals.forEach((v, j) => {
      option.series.push({type: 'line', name: row.conc[j], xAxisIndex: k, yAxisIndex: k,
        data: TIME.map((t, i) => [t, v[i]]), symbol: 'none', showSymbol: false, silent: true,
        color: COLORS[j], itemStyle: {color: COLORS[j]}, lineStyle: {width: 1.5, color: COLORS[j]}, z: 2 + j});
    });
  });
});

// sanity check of series lengths
const ALL = {A1_0,A1_1,A1_2,A1_3,A1_4,A2_0,A2_1,A2_2,A2_3,A2_4,A3_0,A3_1,A3_2,A3_3,A3_4,
  B1_0,B1_1,B1_2,B1_3,B1_4,B2_0,B2_1,B2_2,B2_3,B2_4,B3_0,B3_1,B3_2,B3_3,B3_4,
  C1_0,C1_1,C1_2,C1_3,C1_4,C2_0,C2_1,C2_2,C2_3,C2_4,C3_0,C3_1,C3_2,C3_3,C3_4};
const bad = Object.entries(ALL).filter(([n, a]) => a.length !== TIME.length).map(([n, a]) => n + ':' + a.length);
if (bad.length) option.title.push({text: 'LEN ' + bad.join(' '), left: 0, top: 655, textStyle: {color: 'red', fontSize: 10}});

const chart = echarts.init(document.getElementById('c'), null, {renderer: 'canvas'});
chart.setOption(option);
</script>
</body></html>
